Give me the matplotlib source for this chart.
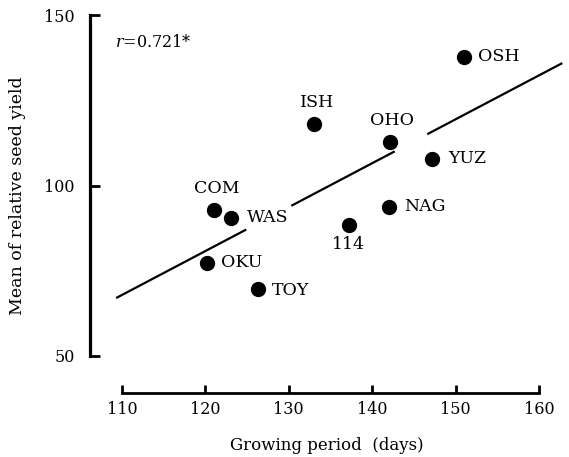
import matplotlib
matplotlib.use("Agg")
import matplotlib.pyplot as plt
import numpy as np

# Data
labels = ["OSH", "ISH", "OHO", "YUZ", "COM", "WAS", "114", "NAG", "OKU", "TOY"]
growing_days = [151.0, 133.0, 142.1, 147.2, 121.0, 123.1, 137.2, 142.0, 120.2, 126.3]
seed_yield = [137.7, 118.0, 112.8, 107.8, 92.8, 90.5, 88.4, 93.7, 77.3, 69.6]

# regression line endpoints (as drawn) and gaps left for labels
fit_x = [109.3, 162.8]
fit_y = [67.0, 135.9]
fit_segments = [(109.3, 124.9), (130.3, 142.7), (146.6, 162.8)]

x_ticks = [110, 120, 130, 140, 150, 160]
y_ticks = [50, 100, 150]

# label offsets in pixels (dx, dy, ha, va)
label_pos = {
    "OSH": (14, 0, "left", "center"),
    "ISH": (3, 22, "center", "center"),
    "OHO": (2, 21, "center", "center"),
    "YUZ": (16, 0, "left", "center"),
    "COM": (3, 22, "center", "center"),
    "WAS": (16, 0, "left", "center"),
    "114": (0, -19, "center", "center"),
    "NAG": (15, 0, "left", "center"),
    "OKU": (14, 0, "left", "center"),
    "TOY": (14, -1, "left", "center"),
}

plt.rcParams['font.family'] = ['DejaVu Serif']
plt.rcParams['mathtext.fontset'] = 'dejavuserif'

W, H = 569, 457
fig = plt.figure(figsize=(W / 100, H / 100), dpi=100)

xlim = (108.0, 163.5)
ylim = (50.0, 150.0)
ppx = (539 - 122) / 50.0
left_px = 122 - (110 - xlim[0]) * ppx
right_px = 539 + (xlim[1] - 160) * ppx
top_px, bottom_px = 15, 356
ax = fig.add_axes([left_px / W, 1 - bottom_px / H, (right_px - left_px) / W, (bottom_px - top_px) / H])
ax.set_xlim(*xlim)
ax.set_ylim(*ylim)

for s in ["top", "right"]:
    ax.spines[s].set_visible(False)
ax.spines["left"].set_position(("outward", (left_px - 90) * 0.72))
ax.spines["bottom"].set_position(("outward", (393 - bottom_px) * 0.72))
ax.spines["left"].set_bounds(50, 150)
ax.spines["bottom"].set_bounds(110, 160)
ax.spines["left"].set_linewidth(2.3)
ax.spines["bottom"].set_linewidth(2.0)

ax.set_xticks(x_ticks)
ax.set_yticks(y_ticks)
ax.tick_params(axis="y", direction="in", length=7, width=2.0, labelsize=11.5, pad=11)
ax.tick_params(axis="x", direction="in", length=6, width=2.0, labelsize=11.5, pad=6)

# regression line
slope = (fit_y[1] - fit_y[0]) / (fit_x[1] - fit_x[0])
for a, b in fit_segments:
    xs = np.array([a, b])
    ys = fit_y[0] + slope * (xs - fit_x[0])
    ax.plot(xs, ys, color="black", lw=1.6, clip_on=False, solid_capstyle="butt")

ax.plot(growing_days, seed_yield, "o", color="black", markersize=10, clip_on=False)

for lab, x, y in zip(labels, growing_days, seed_yield):
    dx, dy, ha, va = label_pos[lab]
    ax.annotate(lab, (x, y), xytext=(dx, dy), textcoords="offset pixels",
                ha=ha, va=va, fontsize=12.5)

ax.text(109.2, 141.8, r"$r$" + "=0.721*", fontsize=11.5, ha="left", va="center",
        transform=ax.transData, clip_on=False)

fig.text(327 / W, 1 - 446 / H, "Growing period  (days)", ha="center", va="center", fontsize=12)
fig.text(18 / W, 1 - 196 / H, "Mean of relative seed yield", ha="center", va="center",
         rotation=90, fontsize=12.5)

fig.savefig("out.png", dpi=100)
